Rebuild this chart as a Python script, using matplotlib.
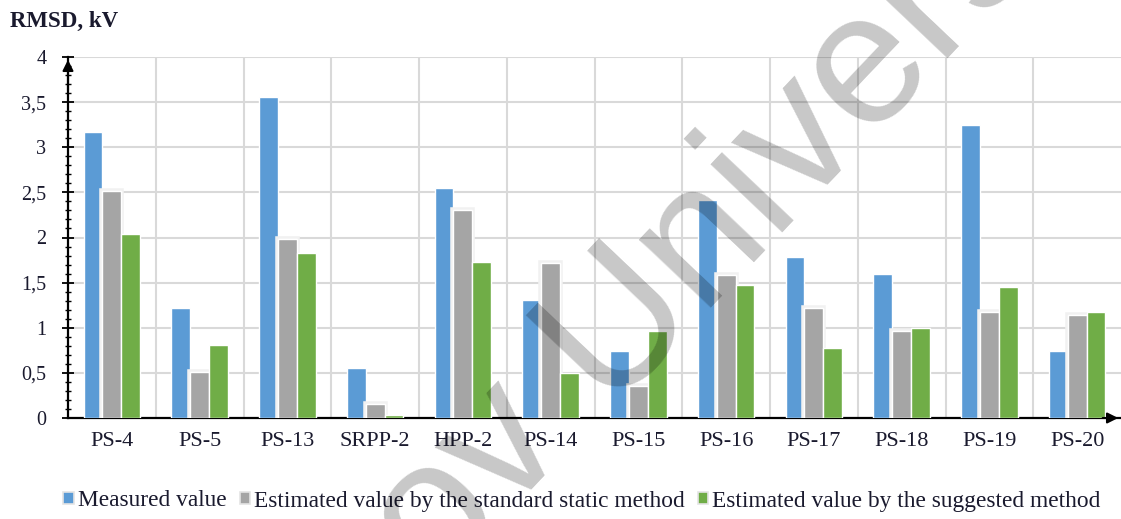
import numpy as np
import matplotlib.pyplot as plt
from matplotlib.ticker import MultipleLocator, FuncFormatter, FixedLocator
from matplotlib.patches import Patch
import matplotlib.patheffects as pe

# data
stations = ['PS-4', 'PS-5', 'PS-13', 'SRPP-2', 'HPP-2', 'PS-14',
            'PS-15', 'PS-16', 'PS-17', 'PS-18', 'PS-19', 'PS-20']
measured = [3.17, 1.22, 3.56, 0.55, 2.55, 1.31, 0.74, 2.41, 1.78, 1.60, 3.25, 0.74]
standard = [2.52, 0.51, 1.98, 0.16, 2.30, 1.72, 0.36, 1.58, 1.22, 0.96, 1.17, 1.14]
suggested = [2.04, 0.81, 1.83, 0.03, 1.73, 0.50, 0.96, 1.47, 0.78, 1.00, 1.45, 1.17]

series_names = ['Measured value',
                'Estimated value by the standard static method',
                'Estimated value by the suggested method']
colors = ['#5B9BD5', '#A5A5A5', '#70AD47']
TXT = '#1a1a2e'

plt.rcParams['font.family'] = ['Liberation Serif', 'DejaVu Serif']

W, H = 1121, 519
fig = plt.figure(figsize=(W / 100, H / 100), dpi=100)
ax = fig.add_axes([68 / W, 101 / H, (W - 68) / W, 361 / H])

x = np.arange(len(stations))
bw = 0.215
for k, (vals, col) in enumerate(zip([measured, standard, suggested], colors)):
    bars = ax.bar(x + (k - 1) * bw, vals, width=bw, color=col,
                  edgecolor='white', linewidth=1.0, zorder=3)
    if k == 1:
        # soft glow round the grey bars
        for b in bars:
            b.set_path_effects([pe.withStroke(linewidth=4, foreground='#f1f1f1'),
                                pe.Normal()])

ax.set_xlim(-0.5, len(stations) - 0.5)
ax.set_ylim(0, 4)

ax.yaxis.set_major_locator(MultipleLocator(0.5))
ax.yaxis.set_minor_locator(MultipleLocator(0.1))
ax.yaxis.set_major_formatter(FuncFormatter(lambda v, p: f'{v:g}'.replace('.', ',')))
ax.set_xticks(x)
ax.set_xticklabels(stations)
ax.xaxis.set_minor_locator(FixedLocator(np.arange(0.5, len(stations) - 0.5, 1)))
ax.grid(axis='y', which='major', color='#d9d9d9', linewidth=1.5, zorder=0)
ax.grid(axis='x', which='minor', color='#d9d9d9', linewidth=1.5, zorder=0)
ax.set_axisbelow(True)

for s in ['top', 'right']:
    ax.spines[s].set_visible(False)
ax.spines['left'].set_linewidth(1.6)
ax.spines['bottom'].set_linewidth(1.6)

ax.tick_params(axis='y', which='major', direction='inout', length=9, width=1.3,
               labelsize=14.5, pad=11, labelcolor=TXT)
ax.tick_params(axis='y', which='minor', direction='inout', length=4.5, width=1.0)
ax.tick_params(axis='x', which='both', length=0, labelsize=16, pad=10,
               labelcolor=TXT)

# axis arrows
ax.annotate('', xy=(0, 1.0), xytext=(0, 0.9), xycoords='axes fraction',
            arrowprops=dict(arrowstyle='-|>', color='black', lw=1.5,
                            mutation_scale=16), annotation_clip=False)
ax.annotate('', xy=(1.0, 0), xytext=(0.98, 0), xycoords='axes fraction',
            arrowprops=dict(arrowstyle='-|>', color='black', lw=1.5,
                            mutation_scale=16), annotation_clip=False)

fig.text(10 / W, 1 - 21 / H, 'RMSD, kV', fontsize=16.5, fontweight='bold',
         va='center', ha='left', color=TXT)

handles = [Patch(facecolor=c, edgecolor='#e4e4e4', linewidth=1.2) for c in colors]
fig.legend(handles, series_names, loc='center', bbox_to_anchor=(582 / W, 18 / H),
           ncol=3, frameon=False, fontsize=16.8, handlelength=0.45, handleheight=0.45,
           handletextpad=0.17, columnspacing=0.56, borderpad=0, labelcolor=TXT)

# watermark across the plot
wm = dict(fontsize=135, family=['Liberation Sans', 'DejaVu Sans'], color='black',
          alpha=0.22, rotation=46.5, rotation_mode='anchor', va='baseline', zorder=10)
fig.text(605 / W, 1 - 404 / H, 'University', ha='left', **wm)
fig.text(569 / W, 1 - 442 / H, 'ov', ha='right', **wm)

fig.savefig('out.png', dpi=100)
